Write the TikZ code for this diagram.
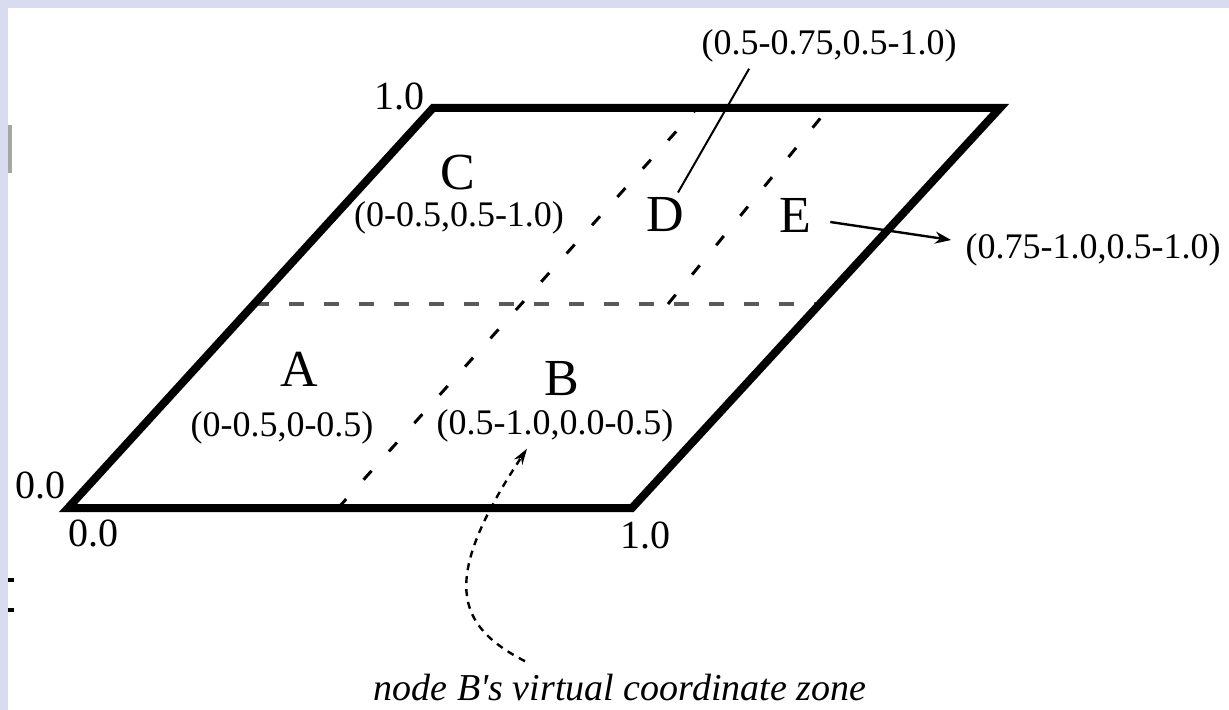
\documentclass[tikz,border=0pt]{standalone}
\usepackage{fontspec}
\setmainfont{Liberation Serif}
\usetikzlibrary{calc,arrows.meta}
\definecolor{framelav}{RGB}{217,219,240}
\definecolor{dashgray}{RGB}{90,90,90}

\begin{document}
\begin{tikzpicture}[x=0.5pt, y=-0.5pt,
    every node/.style={inner sep=0pt, font=\fontsize{18}{20}\selectfont},
    zone/.style={font=\fontsize{26}{28}\selectfont},
    corner/.style={font=\fontsize{20}{22}\selectfont},
    edge/.style={line width=4pt, line join=miter},
    split/.style={line width=1.5pt, dash pattern=on 6pt off 13pt},
    half/.style={line width=2pt, dashgray, dash pattern=on 7.5pt off 10pt}]
  % frame of the screenshot
  \fill[framelav] (0,0) rectangle (1229,710);
  \fill[white] (8,8) rectangle (1229,710);
  \useasboundingbox (0,0) rectangle (1229,710);
  \fill[gray!70] (8,125) rectangle (12,173);
  \fill (8,578) rectangle (14,582);
  \fill (8,608) rectangle (14,612);
  % coordinate space
  \coordinate (o) at (68,508);
  \coordinate (p) at (632,508);
  \coordinate (q) at (1000,108);
  \coordinate (r) at (433,108);
  \draw[half] ($(o)!0.51!(r)$) -- ($(p)!0.51!(q)$);
  \draw[split] ($(o)!0.479!(p)$) -- ($(r)!0.466!(q)$);
  \draw[split] (668,304) -- ($(r)!0.698!(q)$);
  \draw[edge] (o) -- (p) -- (q) -- (r) -- cycle;
  % zones
  \node[zone] (A) at (299,369) {A};
  \node (Aco) at (282,428) {(0-0.5,0-0.5)};
  \node[zone] (B) at (562,379) {B};
  \node (Bco) at (555,426) {(0.5-1.0,0.0-0.5)};
  \node[zone] (C) at (458,173) {C};
  \node (Cco) at (459,218) {(0-0.5,0.5-1.0)};
  \node[zone] (D) at (665,215) {D};
  \node (Dco) at (829,46) {(0.5-0.75,0.5-1.0)};
  \node[zone] (E) at (795,215) {E};
  \node (Eco) at (1093,250) {(0.75-1.0,0.5-1.0)};
  % corner values
  \node[corner] (ox) at (40,485) {0.0};
  \node[corner] (oy) at (93,533) {0.0};
  \node[corner] (px) at (645,535) {1.0};
  \node[corner] (ry) at (399,96) {1.0};
  \node[font=\fontsize{19}{21}\selectfont\itshape] (note) at (620,688) {node B\textquotesingle s virtual coordinate zone};
  % pointers
  \draw[line width=1pt] ($(D.north)+(13,-5)$) -- ($(Dco.south west)+(48,6)$);
  \draw[line width=1.2pt, -{Stealth[length=8pt,width=6pt]}] ($(E.east)+(19,7)$) -- ($(Eco.west)+(-14,-10)$);
  \draw[line width=1.2pt, dash pattern=on 3.5pt off 3pt, -{Stealth[length=8pt,width=5pt]}]
    ($(note.north)+(-95,-13)$) .. controls (455,625) and (440,580) .. ($(Bco.south)+(-28,6)$);
\end{tikzpicture}
\end{document}
